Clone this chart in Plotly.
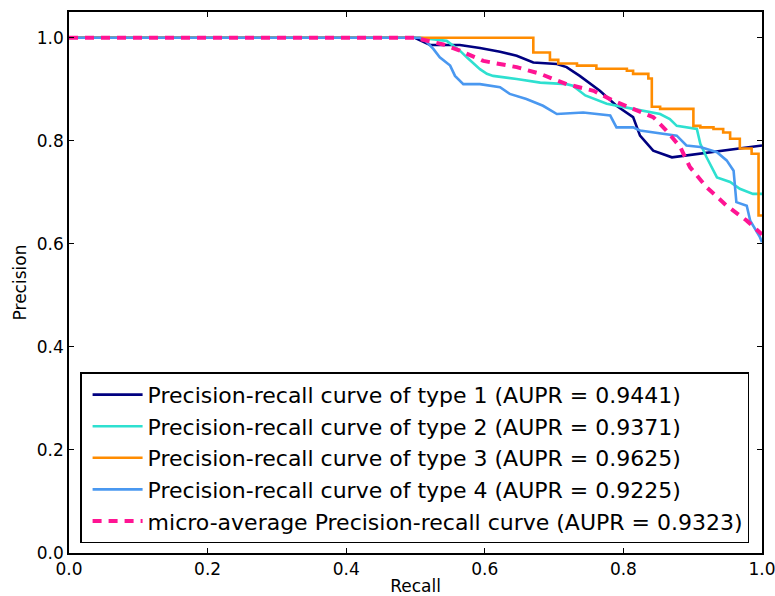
import plotly.graph_objects as go

# ---- data ----
names = [
    "Precision-recall curve of type 1 (AUPR = 0.9441)",
    "Precision-recall curve of type 2 (AUPR = 0.9371)",
    "Precision-recall curve of type 3 (AUPR = 0.9625)",
    "Precision-recall curve of type 4 (AUPR = 0.9225)",
    "micro-average Precision-recall curve (AUPR = 0.9323)",
]

recall_1 = [0.0, 0.499, 0.521, 0.564, 0.593, 0.622, 0.646, 0.670, 0.704, 0.718, 0.737, 0.766,
            0.790, 0.814, 0.824, 0.843, 0.870, 1.0]
precision_1 = [1.0, 1.0, 0.986, 0.986, 0.980, 0.973, 0.965, 0.952, 0.949, 0.943, 0.926, 0.897,
               0.868, 0.846, 0.810, 0.781, 0.768, 0.791]

recall_2 = [0.0, 0.506, 0.545, 0.564, 0.574, 0.593, 0.603, 0.612, 0.646, 0.680, 0.718, 0.727,
            0.745, 0.776, 0.814, 0.853, 0.867, 0.877, 0.906, 0.911, 0.920, 0.935, 0.954, 0.968,
            0.987, 1.0]
precision_2 = [1.0, 1.0, 0.994, 0.975, 0.962, 0.939, 0.930, 0.926, 0.920, 0.913, 0.910, 0.907,
               0.888, 0.872, 0.862, 0.852, 0.842, 0.829, 0.823, 0.794, 0.768, 0.729, 0.720, 0.707,
               0.697, 0.697]

recall_3 = [0.0, 0.670, 0.694, 0.706, 0.733, 0.761, 0.805, 0.814, 0.836, 0.841, 0.853, 0.901,
            0.911, 0.930, 0.944, 0.954, 0.968, 0.985, 0.995, 1.0]
precision_3 = [1.0, 0.9715, 0.957, 0.950, 0.946, 0.940, 0.936, 0.930, 0.921, 0.866, 0.862, 0.829,
               0.826, 0.823, 0.816, 0.804, 0.785, 0.775, 0.655, 0.655]

recall_4 = [0.0, 0.506, 0.514, 0.526, 0.535, 0.550, 0.557, 0.569, 0.593, 0.622, 0.636, 0.660,
            0.684, 0.704, 0.742, 0.781, 0.790, 0.814, 0.824, 0.862, 0.877, 0.891, 0.911, 0.935,
            0.949, 0.959, 0.963, 0.978, 0.983, 0.997, 1.0]
precision_4 = [1.0, 1.0, 0.995, 0.978, 0.962, 0.946, 0.926, 0.910, 0.910, 0.904, 0.891, 0.881,
               0.868, 0.852, 0.855, 0.849, 0.826, 0.826, 0.820, 0.813, 0.810, 0.791, 0.788, 0.778,
               0.762, 0.742, 0.681, 0.674, 0.645, 0.613, 0.603]

recall_micro = [0.0, 0.499, 0.540, 0.564, 0.598, 0.646, 0.680, 0.718, 0.757, 0.785, 0.814, 0.843,
                0.862, 0.882, 0.896, 0.920, 0.949, 0.978, 1.0]
precision_micro = [1.0, 1.0, 0.987, 0.975, 0.955, 0.943, 0.930, 0.910, 0.897, 0.878, 0.862, 0.846,
                   0.820, 0.788, 0.749, 0.710, 0.674, 0.645, 0.618]

x_ticks = [0.0, 0.2, 0.4, 0.6, 0.8, 1.0]
y_ticks = [0.0, 0.2, 0.4, 0.6, 0.8, 1.0]

# ---- styles ----
colors = ["#000080", "#2ee0d0", "#ff8c00", "#4a98f0", "#ff1493"]
series = [
    (recall_1, precision_1, "linear", 2.6, "solid"),
    (recall_2, precision_2, "linear", 2.6, "solid"),
    (recall_3, precision_3, "hv", 2.6, "solid"),
    (recall_4, precision_4, "linear", 2.6, "solid"),
    (recall_micro, precision_micro, "linear", 4, "9px,7px"),
]

fig = go.Figure()
for i, (rx, py, shape, w, dash) in enumerate(series):
    fig.add_trace(go.Scatter(
        x=rx, y=py, mode="lines", name=names[i], legendgroup=f"g{i}",
        line=dict(color=colors[i], width=w, shape=shape, dash=dash),
    ))

axis_common = dict(
    showline=True, linecolor="black", linewidth=1.5, mirror="allticks",
    ticks="inside", ticklen=5, tickwidth=1, tickcolor="black",
    showgrid=False, zeroline=False, tickformat=".1f", automargin=False,
    ticklabeloverflow="allow",
    tickfont=dict(family="DejaVu Sans", size=17, color="black"),
)

fig.update_layout(
    width=775, height=596,
    margin=dict(l=69, r=13, t=12, b=43),
    paper_bgcolor="white", plot_bgcolor="white",
    font=dict(family="DejaVu Sans", color="black"),
    xaxis=dict(range=[0, 1], tickvals=x_ticks, title=dict(text="Recall", font=dict(size=17), standoff=2),
               **axis_common),
    yaxis=dict(range=[0, 1.05], tickvals=y_ticks, title=dict(text="Precision", font=dict(size=17), standoff=6),
               **axis_common),
    legend=dict(
        x=0.016, y=0.334, xanchor="left", yanchor="top",
        bgcolor="white", bordercolor="black", borderwidth=1.5,
        font=dict(family="DejaVu Sans", size=22, color="black"),
        tracegroupgap=0, indentation=6, itemwidth=50,
    ),
    showlegend=True,
)

fig.write_html(
    "out.html",
    config={"displayModeBar": False},
    post_script="document.body.style.margin='0';document.body.style.overflow='hidden';",
)
